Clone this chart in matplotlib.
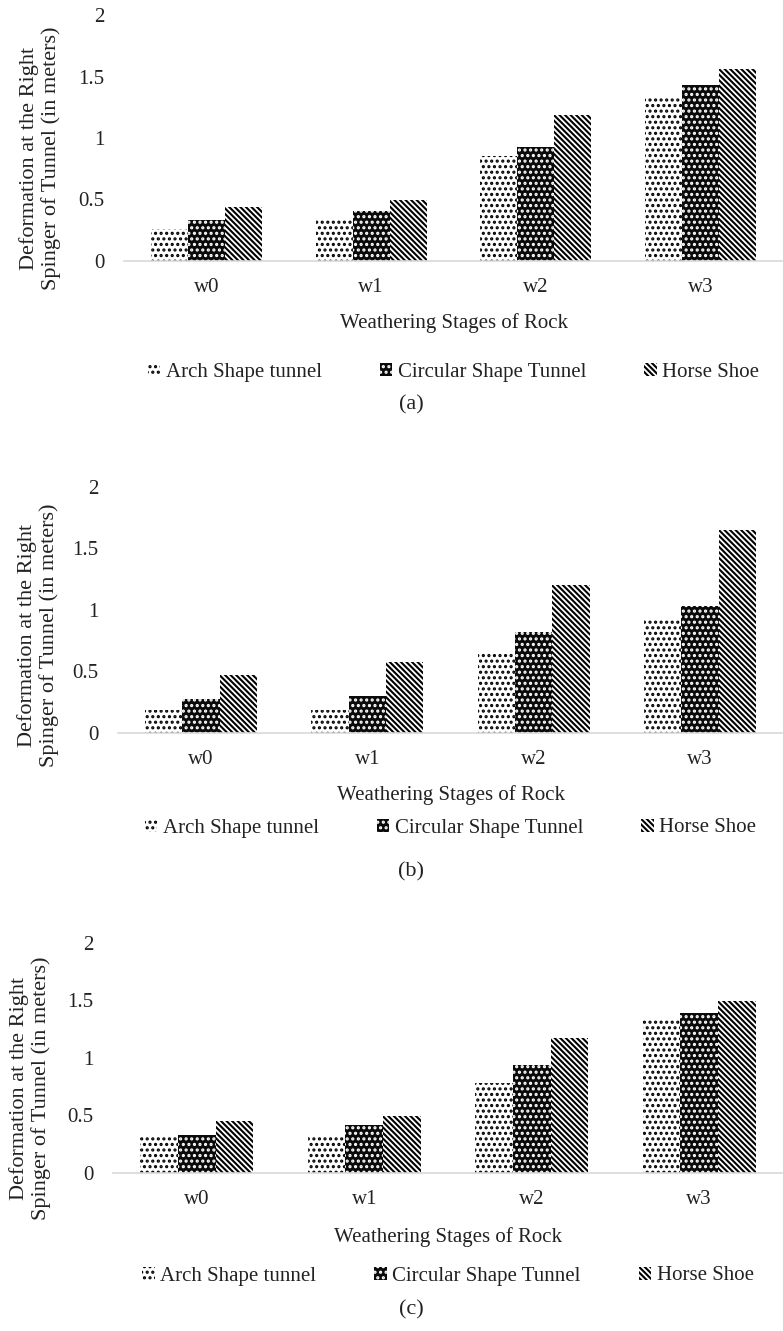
import matplotlib
matplotlib.use('Agg')
import matplotlib.pyplot as plt
from matplotlib.ticker import FuncFormatter

### data
stages = ['w0', 'w1', 'w2', 'w3']
series = ['Arch Shape tunnel', 'Circular Shape Tunnel', 'Horse Shoe']

arch_a = [0.26, 0.33, 0.85, 1.33]
circ_a = [0.33, 0.41, 0.93, 1.43]
horse_a = [0.44, 0.50, 1.19, 1.56]

arch_b = [0.19, 0.19, 0.65, 0.93]
circ_b = [0.28, 0.30, 0.82, 1.03]
horse_b = [0.47, 0.58, 1.20, 1.65]

arch_c = [0.31, 0.31, 0.78, 1.34]
circ_c = [0.33, 0.42, 0.94, 1.39]
horse_c = [0.45, 0.50, 1.17, 1.50]

yticks = [0, 0.5, 1, 1.5, 2]
captions = ['(a)', '(b)', '(c)']

### style
W, H = 783, 1331
plt.rcParams['font.family'] = ['Liberation Serif', 'DejaVu Serif']
plt.rcParams['hatch.linewidth'] = 1.5
fs = 15
txtcolor = '#222222'

# fill, hatch colour, hatch per series
styles = [
    dict(facecolor='white', edgecolor='black', hatch='...'),
    dict(facecolor='#0a0a0a', edgecolor='white', hatch='...'),
    dict(facecolor='white', edgecolor='black', hatch='\\\\\\\\\\\\'),
]

# pixel layout of each panel: axis left, top (y=2), baseline (y=0),
# x-label, legend, caption, y-label x and y centres
layout = [
    dict(left=124, top=15, base=261, xlab=323, leg=372, cap=405, ylx=40, yly=158),
    dict(left=118, top=487, base=733, xlab=795, leg=828, cap=872, ylx=38, yly=635),
    dict(left=113, top=943, base=1173, xlab=1237, leg=1276, cap=1310, ylx=30, yly=1088),
]

def fy(px):
    return 1 - px / H

def fx(px):
    return px / W

fig = plt.figure(figsize=(W / 100, H / 100), dpi=100)

data = [(arch_a, circ_a, horse_a), (arch_b, circ_b, horse_b), (arch_c, circ_c, horse_c)]
bw = 0.225
x = list(range(len(stages)))

for p, (vals, lay, cap) in enumerate(zip(data, layout, captions)):
    ax = fig.add_axes([fx(lay['left']), fy(lay['base']),
                       fx(W - lay['left']), (lay['base'] - lay['top']) / H])
    handles = []
    for i, (v, st) in enumerate(zip(vals, styles)):
        pos = [xi + (i - 1) * bw for xi in x]
        b = ax.bar(pos, v, bw, linewidth=0, label=series[i], **st)
        handles.append(b)

    ax.set_xlim(-0.5, 3.5)
    ax.set_ylim(0, 2)
    ax.set_yticks(yticks)
    ax.yaxis.set_major_formatter(FuncFormatter(lambda v, _: '%g' % v))
    ax.set_xticks(x)
    ax.set_xticklabels(stages)
    ax.tick_params(length=0, labelsize=fs, colors=txtcolor)
    ax.tick_params(axis='x', pad=12)
    ax.tick_params(axis='y', pad=14)
    for s in ('top', 'right', 'left'):
        ax.spines[s].set_visible(False)
    ax.spines['bottom'].set_color('#d9d9d9')
    ax.spines['bottom'].set_linewidth(1.2)

    cx = fx(lay['left'] + (W - lay['left']) / 2)
    fig.text(cx, fy(lay['xlab']), 'Weathering Stages of Rock', ha='center', va='center',
             fontsize=fs, color=txtcolor)
    fig.text(fx(lay['ylx']), fy(lay['yly']),
             'Deformation at the Right\nSpinger of Tunnel (in meters)',
             rotation=90, ha='center', va='center', fontsize=fs + 1, color=txtcolor,
             linespacing=1.1, multialignment='center')
    fig.legend(handles=handles, loc='center', bbox_to_anchor=(cx, fy(lay['leg'])),
               ncol=3, frameon=False, fontsize=fs, handlelength=0.6, handleheight=0.6,
               handletextpad=0.25, columnspacing=2.8, labelcolor=txtcolor)
    fig.text(fx(411), fy(lay['cap']), cap, ha='center', va='center',
             fontsize=16, color=txtcolor)

fig.savefig('out.png', dpi=100)
